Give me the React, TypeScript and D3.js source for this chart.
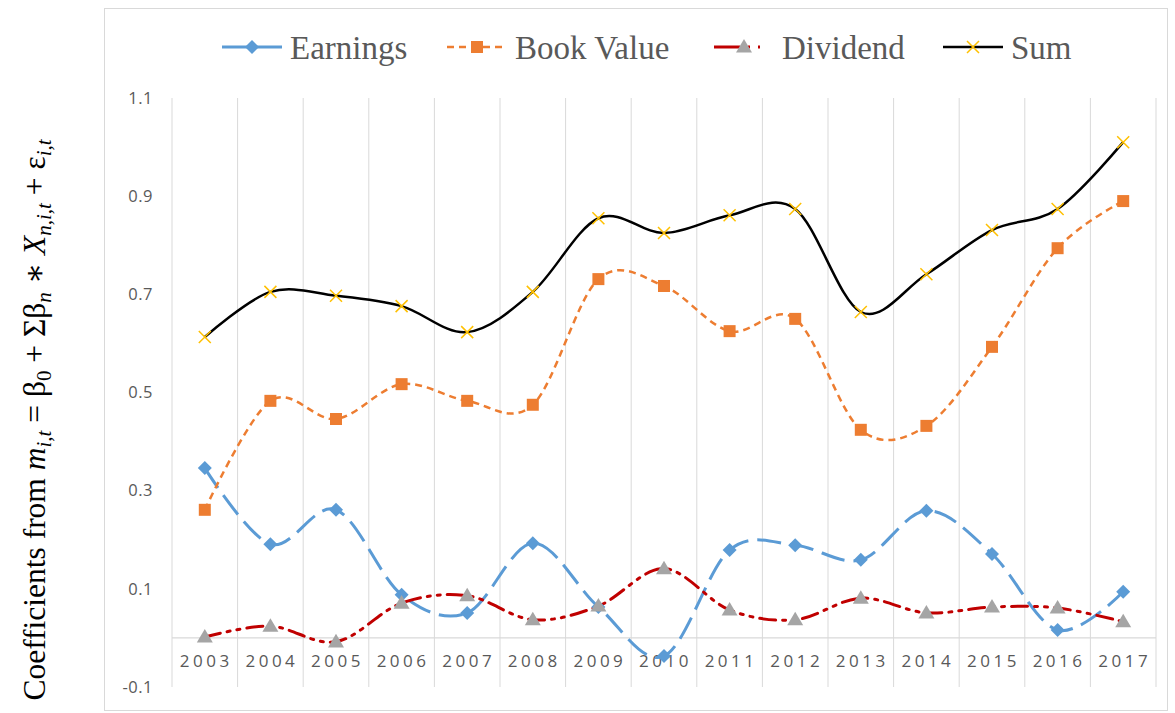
import React from "react";
import * as d3 from "d3";

const years = ["2003","2004","2005","2006","2007","2008","2009","2010","2011","2012","2013","2014","2015","2016","2017"];
const earnings = [0.346,0.191,0.261,0.088,0.051,0.193,0.063,-0.037,0.179,0.189,0.159,0.259,0.171,0.016,0.094];
const bookValue = [0.261,0.483,0.446,0.517,0.483,0.475,0.731,0.717,0.625,0.650,0.424,0.432,0.593,0.794,0.890];
const dividend = [0.002,0.024,-0.008,0.071,0.086,0.037,0.065,0.141,0.057,0.037,0.081,0.051,0.063,0.061,0.033];
const sumVals = [0.613,0.705,0.697,0.676,0.623,0.705,0.855,0.825,0.861,0.874,0.664,0.741,0.831,0.874,1.010];
const yTicks = [-0.1,0.1,0.3,0.5,0.7,0.9,1.1];

const W = 1175, H = 713;
const PL = 172, PR = 1156, PT = 98, PB = 687;

type S = { name: string; values: number[]; color: string; dash: string; width: number; marker: string; mcolor: string; legendX: number; };
const series: S[] = [
  { name: "Earnings", values: earnings, color: "#5B9BD5", dash: "24,9", width: 3, marker: "diamond", mcolor: "#5B9BD5", legendX: 222 },
  { name: "Book Value", values: bookValue, color: "#ED7D31", dash: "7,5", width: 2.5, marker: "square", mcolor: "#ED7D31", legendX: 447 },
  { name: "Dividend", values: dividend, color: "#C00000", dash: "16,7,3,7,3,7", width: 3, marker: "triangle", mcolor: "#A5A5A5", legendX: 714 },
  { name: "Sum", values: sumVals, color: "#000000", dash: "", width: 2.5, marker: "x", mcolor: "#FFC000", legendX: 943 },
];

function Marker({ type, x, y, color }: { type: string; x: number; y: number; color: string }) {
  if (type === "diamond") {
    const s = 7;
    return <path d={`M${x},${y - s}L${x + s},${y}L${x},${y + s}L${x - s},${y}Z`} fill={color} />;
  }
  if (type === "square") {
    const s = 6;
    return <rect x={x - s} y={y - s} width={2 * s} height={2 * s} fill={color} />;
  }
  if (type === "triangle") {
    const s = 8;
    return <path d={`M${x},${y - s}L${x + s},${y + s * 0.7}L${x - s},${y + s * 0.7}Z`} fill={color} />;
  }
  const s = 6;
  return <path d={`M${x - s},${y - s}L${x + s},${y + s}M${x - s},${y + s}L${x + s},${y - s}`} stroke={color} strokeWidth={1.5} fill="none" />;
}

export default function App() {
  const x = d3.scaleBand<string>().domain(years).range([PL, PR]).padding(0);
  const y = d3.scaleLinear().domain([-0.1, 1.1]).range([PB, PT]);
  const cx = (yr: string) => (x(yr) as number) + x.bandwidth() / 2;
  const line = d3.line<number>().x((_, i) => cx(years[i])).y((v) => y(v)).curve(d3.curveCatmullRom.alpha(0));
  const grid = years.map((yr) => x(yr) as number).concat([PR]);
  const tickFont = "'Open Sans', 'DejaVu Sans', sans-serif";
  const serif = "'Liberation Serif', 'DejaVu Serif', serif";

  return (
    <svg width={W} height={H} style={{ position: "absolute", left: 0, top: 0 }}>
      <rect x={0} y={0} width={W} height={H} fill="#fff" />
      <rect x={104.5} y={8.5} width={1063} height={702} fill="#fff" stroke="#d9d9d9" />
      {grid.map((gx, i) => (
        <line key={i} x1={gx} x2={gx} y1={PT} y2={PB} stroke="#d9d9d9" strokeWidth={1} />
      ))}
      <line x1={PL} x2={PR} y1={y(0)} y2={y(0)} stroke="#d9d9d9" strokeWidth={1.2} />
      {yTicks.map((t) => (
        <text key={t} x={153} y={y(t)} dy="0.35em" textAnchor="end" fontFamily={tickFont} fontSize={16.5} letterSpacing={0.5} fill="#595959">{t.toString()}</text>
      ))}
      {years.map((yr) => (
        <text key={yr} x={cx(yr) + 1.5} y={y(0) + 29} textAnchor="middle" fontFamily={tickFont} fontSize={17} letterSpacing={3.5} fill="#595959">{yr}</text>
      ))}
      {series.map((s) => (
        <path key={s.name} d={line(s.values) || ""} fill="none" stroke={s.color} strokeWidth={s.width} strokeDasharray={s.dash || undefined} strokeLinecap={s.name === "Dividend" ? "round" : "butt"} />
      ))}
      {series.map((s) => (
        <g key={s.name + "m"}>
          {s.values.map((v, i) => (
            <Marker key={i} type={s.marker} x={cx(years[i])} y={y(v)} color={s.mcolor} />
          ))}
        </g>
      ))}
      {series.map((s) => (
        <g key={s.name + "l"}>
          <line x1={s.legendX} x2={s.legendX + 60} y1={47} y2={47} stroke={s.color} strokeWidth={s.width} strokeDasharray={s.name === "Dividend" ? "26,8,2,8,2,20" : s.name === "Book Value" ? "7,5" : undefined} />
          <Marker type={s.marker} x={s.legendX + 30} y={47} color={s.mcolor} />
          <text x={s.legendX + 68} y={47} dy="0.35em" fontFamily={serif} fontSize={33} fill="#595959">{s.name}</text>
        </g>
      ))}
      <text transform="translate(45,420) rotate(-90)" textAnchor="middle" fontFamily={serif} fontSize={31.5} fill="#000">
        <tspan>Coefficients from </tspan>
        <tspan fontStyle="italic">m</tspan>
        <tspan fontStyle="italic" fontSize={21} dy={6}>i,t</tspan>
        <tspan dy={-6}> = β</tspan>
        <tspan fontSize={21} dy={6}>0</tspan>
        <tspan dy={-6}> + Σβ</tspan>
        <tspan fontStyle="italic" fontSize={21} dy={6}>n</tspan>
        <tspan dy={-6}> ∗ </tspan>
        <tspan fontStyle="italic">X</tspan>
        <tspan fontStyle="italic" fontSize={21} dy={6}>n,i,t</tspan>
        <tspan dy={-6}> + ε</tspan>
        <tspan fontStyle="italic" fontSize={21} dy={6}>i,t</tspan>
      </text>
    </svg>
  );
}
